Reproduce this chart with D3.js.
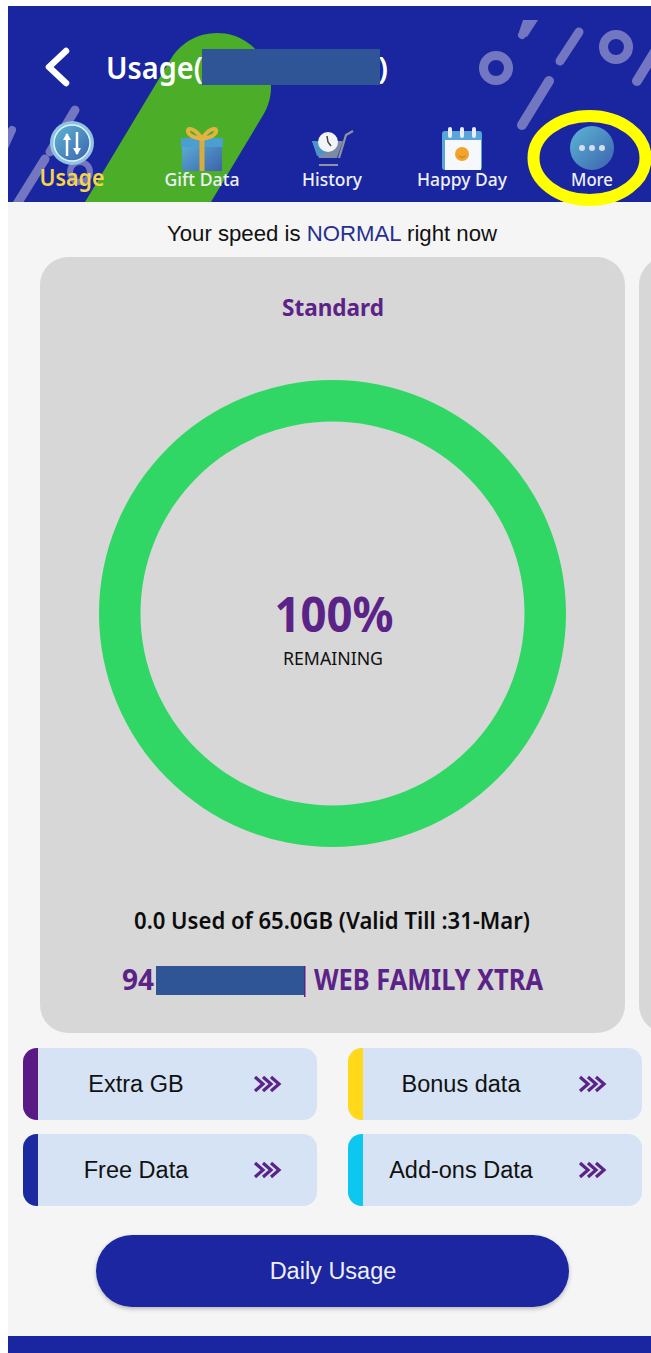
<!DOCTYPE html>
<html>
<head>
<meta charset="utf-8">
<script src="https://cdn.jsdelivr.net/npm/d3@7"></script>
<style>
  html, body { margin: 0; padding: 0; background: #fff; }
  svg { display: block; }
</style>
</head>
<body>
<svg id="chart" width="651" height="1353"></svg>
<script>
// Values
const usedGb = 0;
const totalGb = 65;
const ringNames = ["remaining", "used"];
const ringValues = [totalGb - usedGb, usedGb];
const tabLabels = ["Usage", "Gift Data", "History", "Happy Day", "More"];
const buttonLabels = ["Extra GB", "Bonus data", "Free Data", "Add-ons Data"];
const buttonColors = ["#5a1a86", "#ffd91a", "#1b2aa0", "#0cc8f0"];

const BLUE = "#1a26a0";
const PURPLE = "#5b2387";
const DECOR = "#7377c1";
const SANS = "'Liberation Sans', Arial, sans-serif";
const ROUND = "'Noto Sans', 'Open Sans', sans-serif";

const svg = d3.select("#chart");

const text = (parent, x, y, str, size, color, opts = {}) => {
  const t = parent
    .append("text")
    .attr("x", x)
    .attr("y", y)
    .attr("text-anchor", opts.anchor || "middle")
    .attr("font-family", opts.family || ROUND)
    .attr("font-size", size)
    .attr("font-weight", opts.weight || 400)
    .attr("fill", color)
    .text(str);
  // the phone font is narrower than Noto, squeeze to the measured width
  if (opts.width) {
    t.attr("textLength", opts.width).attr("lengthAdjust", "spacingAndGlyphs");
  }
  return t;
};

const defs = svg.append("defs");
defs
  .append("clipPath")
  .attr("id", "header-clip")
  .append("rect")
  .attr("x", 8)
  .attr("y", 6)
  .attr("width", 643)
  .attr("height", 196);

const addGradient = (id, from, to) => {
  const g = defs
    .append("linearGradient")
    .attr("id", id)
    .attr("x1", 0)
    .attr("y1", 0)
    .attr("x2", 1)
    .attr("y2", 1);
  g.append("stop").attr("offset", 0).attr("stop-color", from);
  g.append("stop").attr("offset", 1).attr("stop-color", to);
};
addGradient("icon-blue", "#5cb6d6", "#3d62ad");

const shadow = defs
  .append("filter")
  .attr("id", "btn-shadow")
  .attr("x", "-5%")
  .attr("y", "-10%")
  .attr("width", "110%")
  .attr("height", "130%");
shadow
  .append("feDropShadow")
  .attr("dx", 0)
  .attr("dy", 2)
  .attr("stdDeviation", 2)
  .attr("flood-color", "#000")
  .attr("flood-opacity", 0.25);

// Page background
svg
  .append("rect")
  .attr("x", 8)
  .attr("y", 202)
  .attr("width", 643)
  .attr("height", 1134)
  .attr("fill", "#f5f5f5");

// Header with its decoration
const header = svg.append("g").attr("clip-path", "url(#header-clip)");
header
  .append("rect")
  .attr("x", 8)
  .attr("y", 6)
  .attr("width", 643)
  .attr("height", 196)
  .attr("fill", BLUE);

const decoLine = (x1, y1, x2, y2, w, color = DECOR) =>
  header
    .append("line")
    .attr("x1", x1)
    .attr("y1", y1)
    .attr("x2", x2)
    .attr("y2", y2)
    .attr("stroke", color)
    .attr("stroke-width", w)
    .attr("stroke-linecap", "round");

const decoRing = (cx, cy, r, w) =>
  header
    .append("circle")
    .attr("cx", cx)
    .attr("cy", cy)
    .attr("r", r)
    .attr("fill", "none")
    .attr("stroke", DECOR)
    .attr("stroke-width", w);

decoLine(75, 110, 50, 152, 9);
decoLine(45, 159, 12, 212, 9);
decoLine(12, 130, 2, 152, 8);
decoRing(80, 172, 10, 6);
decoLine(217, 87, 67, 337, 108, "#4cae28");
decoRing(496, 68, 12.5, 9);
decoRing(616, 47, 12.5, 9);
decoLine(522, 35, 526, 29, 8);
header.append("path").attr("fill", DECOR).attr("d", "M523,20L538,20L527,37L519,32Z");
decoLine(560, 61, 579, 32, 9);
decoLine(522, 125, 549, 81, 10);
decoLine(637, 81, 665, 35, 10);

// Back arrow and title
svg
  .append("path")
  .attr("d", d3.line()([[66, 51], [49, 67], [66, 83]]))
  .attr("fill", "none")
  .attr("stroke", "#fff")
  .attr("stroke-width", 6.5)
  .attr("stroke-linecap", "round")
  .attr("stroke-linejoin", "round");
text(svg, 106, 79, "Usage(", 31, "#fff", { anchor: "start", weight: 600, width: 97 });
text(svg, 378, 79, ")", 31, "#fff", { anchor: "start", weight: 600 });
svg
  .append("rect")
  .attr("x", 202)
  .attr("y", 49)
  .attr("width", 178)
  .attr("height", 36)
  .attr("fill", "#2f5597");

// Tab strip
const tabX = d3.scalePoint().domain(tabLabels).range([72, 592]);
const tabWidths = [65, 75, 60, 90, 42];

const tabIcons = {
  Usage: (g) => {
    g.append("circle").attr("cy", 143).attr("r", 22).attr("fill", "#8fc3df");
    g.append("circle").attr("cy", 143).attr("r", 18).attr("fill", "url(#icon-blue)")
      .attr("stroke", "#dff1f8").attr("stroke-width", 1.5);
    [[-5, 156, 134], [5, 132, 154]].forEach(([x, y1, y2]) => {
      g.append("line").attr("x1", x).attr("x2", x).attr("y1", y1).attr("y2", y2)
        .attr("stroke", "#fff").attr("stroke-width", 2.5);
      const dir = y2 < y1 ? 1 : -1;
      g.append("path").attr("fill", "#fff")
        .attr("d", `M${x - 4},${y2 + dir * 6}L${x},${y2 - dir * 1}L${x + 4},${y2 + dir * 6}Z`);
    });
  },
  "Gift Data": (g) => {
    g.append("rect").attr("x", -20).attr("y", 138).attr("width", 40).attr("height", 33)
      .attr("fill", "url(#icon-blue)");
    g.append("rect").attr("x", -21).attr("y", 138).attr("width", 42).attr("height", 9).attr("fill", "#4a9fd0");
    g.append("rect").attr("x", -2.5).attr("y", 138).attr("width", 5).attr("height", 33).attr("fill", "#d9ad3c");
    g.append("path").attr("fill", "none").attr("stroke", "#e3b341").attr("stroke-width", 4)
      .attr("d", "M0,139C-6,129-15,126-14,132C-13,136-6,138 0,139C6,138 13,136 14,132C15,126 6,129 0,139");
  },
  History: (g) => {
    g.append("path").attr("fill", "#7d8aa3").attr("d", "M-20,141L11,141L5,158L-13,158Z");
    g.append("path").attr("fill", "#4d93c9").attr("d", "M-20,141L-5,141L-3,152L-15,156Z");
    g.append("path").attr("fill", "none").attr("stroke", "#8f94a3").attr("stroke-width", 2.2)
      .attr("d", "M7,158L14,135L21,131M-13,165L6,165");
    g.append("circle").attr("cx", -4).attr("cy", 142).attr("r", 10).attr("fill", "#f2f4f6");
    g.append("path").attr("fill", "none").attr("stroke", "#444").attr("stroke-width", 1.5)
      .attr("d", "M-5,136L-4,142L-1,146");
  },
  "Happy Day": (g) => {
    g.append("rect").attr("x", -20).attr("y", 131).attr("width", 40).attr("height", 39).attr("rx", 3)
      .attr("fill", "#5aa5d8");
    g.append("rect").attr("x", -17).attr("y", 140).attr("width", 36).attr("height", 30).attr("fill", "#f7f8fb");
    [-12, 0, 12].forEach((x) => {
      g.append("rect").attr("x", x - 2).attr("y", 127).attr("width", 4).attr("height", 11).attr("rx", 2)
        .attr("fill", "#e8eef8");
    });
    g.append("circle").attr("cy", 154).attr("r", 7).attr("fill", "#f2a32c");
    g.append("path").attr("fill", "none").attr("stroke", "#c9791a").attr("stroke-width", 1)
      .attr("d", "M-3.5,156Q0,159 3.5,156");
  },
  More: (g) => {
    g.append("circle").attr("cy", 148).attr("r", 22).attr("fill", "url(#icon-blue)");
    [-10, 0, 10].forEach((x) => {
      g.append("circle").attr("cx", x).attr("cy", 148).attr("r", 3).attr("fill", "#d5dee8");
    });
  },
};

const tabs = svg
  .selectAll("g.tab")
  .data(tabLabels)
  .enter()
  .append("g")
  .attr("class", "tab")
  .attr("transform", (d) => `translate(${tabX(d)},0)`);

tabs.each(function (d) {
  tabIcons[d](d3.select(this));
});

tabs
  .append("text")
  .attr("y", 186)
  .attr("text-anchor", "middle")
  .attr("font-family", ROUND)
  .attr("font-size", (d, i) => (i === 0 ? 23 : 18.5))
  .attr("font-weight", (d, i) => (i === 0 ? 600 : 500))
  .attr("fill", (d, i) => (i === 0 ? "#f5d547" : "#eef0f8"))
  .attr("textLength", (d, i) => tabWidths[i])
  .attr("lengthAdjust", "spacingAndGlyphs")
  .text((d) => d);

// Highlight ring round the More tab
svg
  .append("ellipse")
  .attr("cx", 589.5)
  .attr("cy", 158)
  .attr("rx", 56)
  .attr("ry", 42)
  .attr("fill", "none")
  .attr("stroke", "#ffff00")
  .attr("stroke-width", 12);

// Speed line
const speed = svg
  .append("text")
  .attr("x", 332)
  .attr("y", 241)
  .attr("text-anchor", "middle")
  .attr("font-family", SANS)
  .attr("font-size", 22.2)
  .attr("fill", "#111");
speed.append("tspan").text("Your speed is ");
speed.append("tspan").attr("fill", "#27308f").text("NORMAL");
speed.append("tspan").text(" right now");

// Cards
svg
  .append("rect")
  .attr("x", 40)
  .attr("y", 257)
  .attr("width", 585)
  .attr("height", 776)
  .attr("rx", 28)
  .attr("fill", "#d7d7d7");
svg
  .append("rect")
  .attr("x", 639)
  .attr("y", 257)
  .attr("width", 60)
  .attr("height", 776)
  .attr("rx", 28)
  .attr("fill", "#d7d7d7");

text(svg, 333, 316, "Standard", 24, PURPLE, { weight: 700, width: 102 });

// Usage ring
const pie = d3.pie().sort(null);
const arc = d3.arc().innerRadius(192).outerRadius(233.5);
const ringColor = d3.scaleOrdinal().domain(ringNames).range(["#31d765", "#d7d7d7"]);

svg
  .append("g")
  .attr("transform", "translate(332.5,613.5)")
  .selectAll("path")
  .data(pie(ringValues))
  .enter()
  .append("path")
  .attr("d", arc)
  .attr("fill", (d, i) => ringColor(ringNames[i]));

const remainingPct = d3.format(".0%")(ringValues[0] / totalGb);
text(svg, 334, 632, remainingPct, 48, PURPLE, { weight: 700, width: 119 });
text(svg, 333, 665, "REMAINING", 18, "#111", { width: 100 });

text(svg, 332, 929, `${usedGb.toFixed(1)} Used of ${totalGb.toFixed(1)}GB (Valid Till :31-Mar)`, 22.5, "#0c0c0c", { weight: 600, width: 396 });

text(svg, 122, 990, "94", 28, PURPLE, { anchor: "start", weight: 700 });
svg
  .append("rect")
  .attr("x", 304)
  .attr("y", 966)
  .attr("width", 1.5)
  .attr("height", 31)
  .attr("fill", PURPLE);
svg
  .append("rect")
  .attr("x", 156)
  .attr("y", 966)
  .attr("width", 148)
  .attr("height", 29)
  .attr("fill", "#2f5597");
text(svg, 314, 990, "WEB FAMILY XTRA", 28, PURPLE, { anchor: "start", weight: 700, width: 229 });

// Data buttons
const btnX = d3.scalePoint().domain([0, 1]).range([23, 348]);
const btnY = d3.scalePoint().domain([0, 1]).range([1048, 1134]);
const BTN_W = 294;
const BTN_H = 72;

const buttons = svg
  .selectAll("g.btn")
  .data(buttonLabels)
  .enter()
  .append("g")
  .attr("class", "btn")
  .attr("transform", (d, i) => `translate(${btnX(i % 2)},${btnY(Math.floor(i / 2))})`);

buttons.each(function (d, i) {
  const g = d3.select(this);
  const clipId = "btn-clip-" + i;
  defs
    .append("clipPath")
    .attr("id", clipId)
    .append("rect")
    .attr("width", BTN_W)
    .attr("height", BTN_H)
    .attr("rx", 14);
  g.append("rect")
    .attr("width", BTN_W)
    .attr("height", BTN_H)
    .attr("rx", 14)
    .attr("fill", "#d6e3f5");
  g.append("rect")
    .attr("width", 15)
    .attr("height", BTN_H)
    .attr("clip-path", `url(#${clipId})`)
    .attr("fill", buttonColors[i]);
  // three chevrons
  [0, 8, 16].forEach((dx) => {
    g.append("path")
      .attr("d", d3.line()([[232 + dx, 29], [240 + dx, 36], [232 + dx, 43]]))
      .attr("fill", "none")
      .attr("stroke", PURPLE)
      .attr("stroke-width", 3.2);
  });
});

buttons
  .append("text")
  .attr("x", 113)
  .attr("y", 44)
  .attr("text-anchor", "middle")
  .attr("font-family", SANS)
  .attr("font-size", 23.5)
  .attr("fill", "#111")
  .text((d) => d);

// Daily usage button
svg
  .append("rect")
  .attr("x", 96)
  .attr("y", 1235)
  .attr("width", 473)
  .attr("height", 72)
  .attr("rx", 36)
  .attr("fill", BLUE)
  .attr("filter", "url(#btn-shadow)");
text(svg, 333, 1279, "Daily Usage", 23.5, "#eef0fa", { family: SANS });

// Footer strip
svg
  .append("rect")
  .attr("x", 8)
  .attr("y", 1336)
  .attr("width", 643)
  .attr("height", 17)
  .attr("fill", BLUE);
</script>
</body>
</html>
